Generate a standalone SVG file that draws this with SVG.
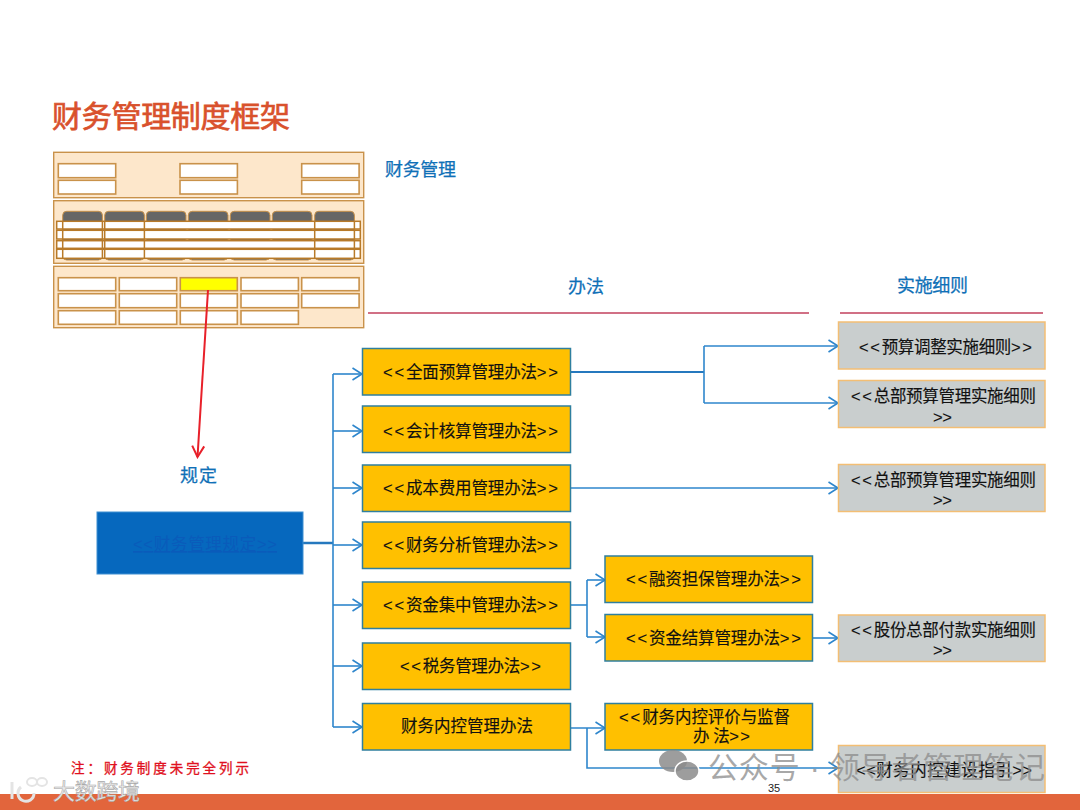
<svg xmlns="http://www.w3.org/2000/svg" width="1080" height="810" viewBox="0 0 1080 810">
<style>
text{font-family:"Liberation Sans","Noto Sans CJK SC",sans-serif}
.o rect{fill:#FFC000;stroke:#2F7F9F;stroke-width:1.5}
.g rect{fill:#C9CECE;stroke:#F3BE74;stroke-width:1.5}
.t{font-size:16.5px;fill:#111;stroke:#111;stroke-width:.15}
.s{letter-spacing:2px}
.h{font-size:18px;fill:#0F70B7;stroke:#0F70B7;stroke-width:.25}
.pan{fill:#FDE7CB;stroke:#C9924A;stroke-width:1.4}
.tb{fill:#fff;stroke:#C9924A;stroke-width:1.6}
.col{fill:none;stroke:#B87A28;stroke-width:1.5}
.row{fill:#fff;stroke:#B87A28;stroke-width:1.5}
.c{fill:none;stroke:#2E86CC;stroke-width:1.6;marker-end:url(#a)}
.l{fill:none;stroke:#2E86CC;stroke-width:1.6}
</style>
<defs>
<marker id="a" markerUnits="userSpaceOnUse" markerWidth="12" markerHeight="14" refX="10.5" refY="7" orient="auto"><path d="M1 1 L10.5 7 L1 13" fill="none" stroke="#2E86CC" stroke-width="1.6"/></marker>
<marker id="r" markerUnits="userSpaceOnUse" markerWidth="14" markerHeight="16" refX="12" refY="8" orient="auto"><path d="M1 2 L12 8 L1 14" fill="none" stroke="#E8202A" stroke-width="2"/></marker>
</defs>
<rect width="1080" height="810" fill="#fff"/>
<text x="52" y="127" font-size="30" fill="#D9512C" stroke="#D9512C" stroke-width=".7" textLength="238">财务管理制度框架</text>
<g id="thumbnail">
<rect class="pan" x="53.7" y="152.3" width="310" height="45.4"/>
<rect class="tb" x="58.3" y="163.7" width="57.4" height="14"/><rect class="tb" x="180" y="163.7" width="57.4" height="14"/><rect class="tb" x="301.7" y="163.7" width="57.4" height="14"/>
<rect class="tb" x="58.3" y="180.3" width="57.4" height="13.7"/><rect class="tb" x="180" y="180.3" width="57.4" height="13.7"/><rect class="tb" x="301.7" y="180.3" width="57.4" height="13.7"/>
<rect class="pan" x="53.7" y="200.7" width="310" height="62.6"/>
<g fill="#666" stroke="#C9924A" stroke-width="1">
<rect x="62.700" y="211.300" width="39.700" height="48.700" rx="4"/><rect x="104.700" y="211.300" width="39.700" height="48.700" rx="4"/><rect x="146.300" y="211.300" width="39.700" height="48.700" rx="4"/><rect x="188.300" y="211.300" width="39.700" height="48.700" rx="4"/><rect x="230.300" y="211.300" width="39.700" height="48.700" rx="4"/><rect x="272.300" y="211.300" width="39.700" height="48.700" rx="4"/><rect x="314.700" y="211.300" width="39.700" height="48.700" rx="4"/>
</g>
<rect class="row" x="56.700" y="221.300" width="303.600" height="7.700"/><rect class="row" x="56.700" y="230.300" width="303.600" height="8.700"/><rect class="row" x="56.700" y="240.700" width="303.600" height="7.600"/><rect class="row" x="56.700" y="249.300" width="303.600" height="9"/>
<path d="M62.700 221V258M102.400 221V258M104.700 221V258M144.400 221V258M314.700 221V258M354.400 221V258" class="col"/>
<rect class="pan" x="53.700" y="266.300" width="310" height="61.400"/>
<rect class="tb" x="58.300" y="277.700" width="57.400" height="13"/><rect class="tb" x="119.300" y="277.700" width="57.400" height="13"/><rect x="180.300" y="277.700" width="57" height="13" fill="#FFFF00" stroke="#C9924A" stroke-width="1.600"/><rect class="tb" x="241" y="277.700" width="57.400" height="13"/><rect class="tb" x="301.700" y="277.700" width="57.400" height="13"/>
<rect class="tb" x="58.300" y="293.700" width="57.400" height="14"/><rect class="tb" x="119.300" y="293.700" width="57.400" height="14"/><rect class="tb" x="180.300" y="293.700" width="57" height="14"/><rect class="tb" x="241" y="293.700" width="57.400" height="14"/><rect class="tb" x="301.700" y="293.700" width="57.400" height="14"/>
<rect class="tb" x="58.300" y="310.700" width="57.400" height="13.600"/><rect class="tb" x="119.300" y="310.700" width="57.400" height="13.600"/><rect class="tb" x="180.300" y="310.700" width="57" height="13.600"/><rect class="tb" x="241" y="310.700" width="57.400" height="13.600"/>
</g>
<text class="h" x="385" y="176" textLength="71">财务管理</text>
<text class="h" x="568" y="293" textLength="36">办法</text>
<text class="h" x="897" y="292" textLength="71">实施细则</text>
<text class="h" x="180" y="482" textLength="37">规定</text>
<path d="M368 313H809M840 313H1043" stroke="#C2415E" stroke-width="1.300" fill="none"/>
<g id="connectors">
<path d="M208 290L197.500 457" fill="none" stroke="#E8202A" stroke-width="2" marker-end="url(#r)"/>
<path d="M303 543H333" fill="none" stroke="#2578BE" stroke-width="2.500"/>
<path class="l" d="M333 374V727"/>
<path class="c" d="M333 374H362"/><path class="c" d="M333 431H362"/><path class="c" d="M333 488H362"/><path class="c" d="M333 545H362"/><path class="c" d="M333 605H362"/><path class="c" d="M333 666H362"/><path class="c" d="M333 727H362"/>
<path d="M570 372H704" fill="none" stroke="#2578BE" stroke-width="2"/>
<path class="l" d="M704 346V403"/>
<path class="c" d="M704 346H838"/><path class="c" d="M704 403H838"/>
<path class="c" d="M570 488H838"/>
<path class="l" d="M570 605H587"/>
<path class="c" d="M587 580H605"/><path class="c" d="M587 637H605"/><path class="l" d="M587 580V637"/>
<path class="c" d="M812 638H838"/>
<path class="c" d="M570 728H605"/>
<path class="c" d="M587 728V768H838"/>
</g>
<g id="n-root"><rect x="97" y="512" width="206" height="62" fill="#0668BE" stroke="#3F8FD2"/><text x="133" y="550" font-size="16.500" fill="#0A5BBA" text-decoration="underline" textLength="144">&lt;&lt;财务管理规定&gt;&gt;</text></g>
<g id="n1" class="o"><rect x="362.500" y="348.500" width="208" height="46.500"/><text class="t" x="383" y="378" textLength="177"><tspan class="s">&lt;&lt;</tspan>全面预算管理办法<tspan class="s">&gt;&gt;</tspan></text></g>
<g id="n2" class="o"><rect x="362.500" y="406" width="208" height="46.500"/><text class="t" x="383" y="437" textLength="177"><tspan class="s">&lt;&lt;</tspan>会计核算管理办法<tspan class="s">&gt;&gt;</tspan></text></g>
<g id="n3" class="o"><rect x="362.500" y="465" width="208" height="46.500"/><text class="t" x="383" y="494" textLength="177"><tspan class="s">&lt;&lt;</tspan>成本费用管理办法<tspan class="s">&gt;&gt;</tspan></text></g>
<g id="n4" class="o"><rect x="362.500" y="522" width="208" height="46.500"/><text class="t" x="383" y="551" textLength="177"><tspan class="s">&lt;&lt;</tspan>财务分析管理办法<tspan class="s">&gt;&gt;</tspan></text></g>
<g id="n5" class="o"><rect x="362.500" y="582" width="208" height="46.500"/><text class="t" x="383" y="611" textLength="177"><tspan class="s">&lt;&lt;</tspan>资金集中管理办法<tspan class="s">&gt;&gt;</tspan></text></g>
<g id="n6" class="o"><rect x="362.500" y="643" width="208" height="46.500"/><text class="t" x="400" y="672" textLength="143"><tspan class="s">&lt;&lt;</tspan>税务管理办法<tspan class="s">&gt;&gt;</tspan></text></g>
<g id="n7" class="o"><rect x="362.500" y="703.500" width="208" height="46.500"/><text class="t" x="401" y="732" textLength="132">财务内控管理办法</text></g>
<g id="n8" class="o"><rect x="605" y="556" width="207.500" height="46.500"/><text class="t" x="626" y="585" textLength="177"><tspan class="s">&lt;&lt;</tspan>融资担保管理办法<tspan class="s">&gt;&gt;</tspan></text></g>
<g id="n9" class="o"><rect x="605" y="614.500" width="207.500" height="46.500"/><text class="t" x="626" y="644" textLength="177"><tspan class="s">&lt;&lt;</tspan>资金结算管理办法<tspan class="s">&gt;&gt;</tspan></text></g>
<g id="n10" class="o"><rect x="605" y="703.500" width="207.500" height="46.500"/><text class="t" x="619" y="723" textLength="171"><tspan class="s">&lt;&lt;</tspan>财务内控评价与监督</text><text class="t" x="693" y="742" textLength="59">办 法<tspan class="s">&gt;&gt;</tspan></text></g>
<g id="g1" class="g"><rect x="838.500" y="322" width="206.500" height="47"/><text class="t" x="859" y="353" textLength="175"><tspan class="s">&lt;&lt;</tspan>预算调整实施细则<tspan class="s">&gt;&gt;</tspan></text></g>
<g id="g2" class="g"><rect x="838.500" y="380.500" width="206.500" height="47"/><text class="t" x="851" y="402" textLength="185"><tspan class="s">&lt;&lt;</tspan>总部预算管理实施细则</text><text class="t" x="933" y="423" textLength="21"><tspan class="s">&gt;&gt;</tspan></text></g>
<g id="g3" class="g"><rect x="838.500" y="464.500" width="206.500" height="47"/><text class="t" x="851" y="486" textLength="185"><tspan class="s">&lt;&lt;</tspan>总部预算管理实施细则</text><text class="t" x="933" y="506" textLength="21"><tspan class="s">&gt;&gt;</tspan></text></g>
<g id="g4" class="g"><rect x="838.500" y="615" width="206.500" height="46.500"/><text class="t" x="851" y="636" textLength="185"><tspan class="s">&lt;&lt;</tspan>股份总部付款实施细则</text><text class="t" x="933" y="656" textLength="21"><tspan class="s">&gt;&gt;</tspan></text></g>
<g id="g5" class="g"><rect x="838.500" y="745.500" width="206.500" height="47"/><text class="t" x="856" y="776" textLength="176">&lt;&lt;财务内控建设指引&gt;&gt;</text></g>
<text x="71" y="773" font-size="13.500" fill="#E01020" stroke="#E01020" stroke-width=".3" textLength="178">注：财务制度未完全列示</text>
<rect y="794" width="1080" height="16" fill="#E2653C"/>
<text x="768" y="792" font-size="11" fill="#222">35</text>
<g id="watermarks">
<g fill="#8c8c8c" fill-opacity=".85"><ellipse cx="673" cy="761" rx="14" ry="11"/><ellipse cx="687" cy="771" rx="12" ry="10" stroke="#fff" stroke-width="1.500"/></g>
<text x="708" y="778" font-size="30" fill="#8c8c8c" fill-opacity=".75" textLength="337">公众号 · 领导者管理笔记</text>
<g fill="none" stroke="#e4e4e4" stroke-width="3"><path d="M12 782V799"/><path d="M34 793a8 8 0 1 1-13-6"/><ellipse cx="32" cy="782" rx="5" ry="4" stroke-width="2"/><ellipse cx="42" cy="782" rx="5" ry="4" stroke-width="2"/></g>
<text x="53" y="799" font-size="22" fill="#ececec" stroke="#aaa" stroke-width=".6" textLength="87">大数跨境</text>
</g>
</svg>
